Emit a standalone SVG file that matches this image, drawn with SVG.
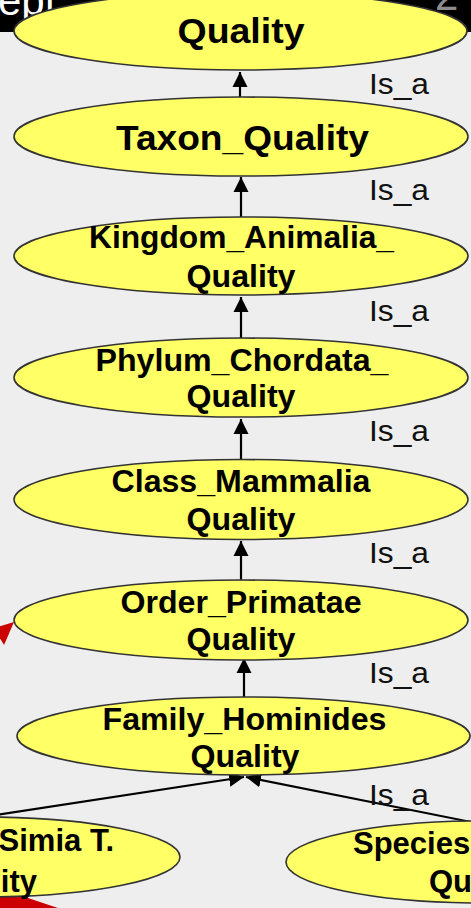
<svg xmlns="http://www.w3.org/2000/svg" width="471" height="908" viewBox="0 0 471 908">
<style>
.node{fill:#ffff66;stroke:#333333;stroke-width:1.6}
.lbl{font-family:"Liberation Sans",Arial,sans-serif;font-weight:bold;fill:#000;text-anchor:middle}
.big{font-size:35px}
.mid{font-size:31px}
.isa{font-family:"Liberation Sans",Arial,sans-serif;font-size:29px;fill:#111}
.edge{stroke:#000;stroke-width:2.2;fill:none}
</style>
<defs>
<marker id="ah" markerUnits="userSpaceOnUse" markerWidth="16" markerHeight="16" viewBox="0 0 16 16" refX="15" refY="8" orient="auto">
<path d="M0,0.5 L15,8 L0,15.5 z" fill="#000"/>
</marker>
</defs>
<rect x="0" y="0" width="471" height="908" fill="#eeeeee"/>
<rect x="0" y="0" width="471" height="32" fill="#000"/>
<text x="-2" y="15" font-family="Liberation Sans,Arial,sans-serif" font-size="42" fill="#ffffff">ept</text>
<text x="435" y="10" font-family="Liberation Sans,Arial,sans-serif" font-size="42" fill="#8c8c8c">2</text>
<g id="connectors">
<line class="edge" x1="240" y1="97" x2="240" y2="72" marker-end="url(#ah)"/>
<line class="edge" x1="241" y1="217" x2="241" y2="177" marker-end="url(#ah)"/>
<line class="edge" x1="241" y1="338" x2="241" y2="297" marker-end="url(#ah)"/>
<line class="edge" x1="241" y1="459" x2="241" y2="419" marker-end="url(#ah)"/>
<line class="edge" x1="241" y1="580" x2="241" y2="541" marker-end="url(#ah)"/>
<line class="edge" x1="244" y1="697" x2="244" y2="658" marker-end="url(#ah)"/>
<line class="edge" x1="-10" y1="816" x2="244" y2="777" marker-end="url(#ah)"/>
<line class="edge" x1="481" y1="824" x2="246" y2="777" marker-end="url(#ah)"/>
<polygon points="14,622 -6,628 4,645" fill="#cc0000"/>
<polygon points="10,892 0,896 0,908 58,908" fill="#cc0000"/>
</g>
<g id="n-quality">
<ellipse class="node" cx="240.5" cy="31" rx="226.5" ry="39"/>
<text class="lbl big" x="241" y="43" textLength="127" lengthAdjust="spacingAndGlyphs">Quality</text>
</g>
<g id="n-taxon">
<ellipse class="node" cx="241" cy="136.5" rx="227" ry="39.5"/>
<text class="lbl big" x="242.5" y="150" textLength="253" lengthAdjust="spacingAndGlyphs">Taxon_Quality</text>
</g>
<g id="n-kingdom">
<ellipse class="node" cx="241" cy="256" rx="227" ry="39"/>
<text class="lbl mid" x="241.5" y="248" textLength="305" lengthAdjust="spacingAndGlyphs">Kingdom_Animalia_</text>
<text class="lbl mid" x="241" y="287" textLength="109" lengthAdjust="spacingAndGlyphs">Quality</text>
</g>
<g id="n-phylum">
<ellipse class="node" cx="241" cy="377.5" rx="227" ry="39.5"/>
<text class="lbl mid" x="242" y="371" textLength="293" lengthAdjust="spacingAndGlyphs">Phylum_Chordata_</text>
<text class="lbl mid" x="241" y="407" textLength="109" lengthAdjust="spacingAndGlyphs">Quality</text>
</g>
<g id="n-class">
<ellipse class="node" cx="241" cy="499.5" rx="227" ry="40"/>
<text class="lbl mid" x="241" y="492" textLength="259" lengthAdjust="spacingAndGlyphs">Class_Mammalia</text>
<text class="lbl mid" x="241" y="530" textLength="109" lengthAdjust="spacingAndGlyphs">Quality</text>
</g>
<g id="n-order">
<ellipse class="node" cx="241" cy="620" rx="227" ry="40"/>
<text class="lbl mid" x="241" y="613" textLength="241" lengthAdjust="spacingAndGlyphs">Order_Primatae</text>
<text class="lbl mid" x="241" y="650" textLength="109" lengthAdjust="spacingAndGlyphs">Quality</text>
</g>
<g id="n-family">
<ellipse class="node" cx="243.5" cy="736" rx="226.5" ry="39"/>
<text class="lbl mid" x="244.5" y="730" textLength="284" lengthAdjust="spacingAndGlyphs">Family_Hominides</text>
<text class="lbl mid" x="245" y="767" textLength="109" lengthAdjust="spacingAndGlyphs">Quality</text>
</g>
<g id="n-simia">
<ellipse class="node" cx="-18" cy="857" rx="198" ry="40"/>
<text class="lbl mid" x="114" y="851" style="text-anchor:end">Simia T.</text>
<text class="lbl mid" x="37" y="892" style="text-anchor:end">ity</text>
</g>
<g id="n-species">
<ellipse class="node" cx="483" cy="862" rx="197" ry="41"/>
<text class="lbl mid" x="353" y="854" style="text-anchor:start">Species</text>
<text class="lbl mid" x="429" y="892" style="text-anchor:start">Qu</text>
</g>
<g id="labels">
<text class="isa" x="369" y="94" textLength="60" lengthAdjust="spacingAndGlyphs">Is_a</text>
<text class="isa" x="369" y="200" textLength="60" lengthAdjust="spacingAndGlyphs">Is_a</text>
<text class="isa" x="369" y="321" textLength="60" lengthAdjust="spacingAndGlyphs">Is_a</text>
<text class="isa" x="369" y="441" textLength="60" lengthAdjust="spacingAndGlyphs">Is_a</text>
<text class="isa" x="369" y="563" textLength="60" lengthAdjust="spacingAndGlyphs">Is_a</text>
<text class="isa" x="369" y="683" textLength="60" lengthAdjust="spacingAndGlyphs">Is_a</text>
<text class="isa" x="369" y="805" textLength="60" lengthAdjust="spacingAndGlyphs">Is_a</text>
</g>
</svg>
